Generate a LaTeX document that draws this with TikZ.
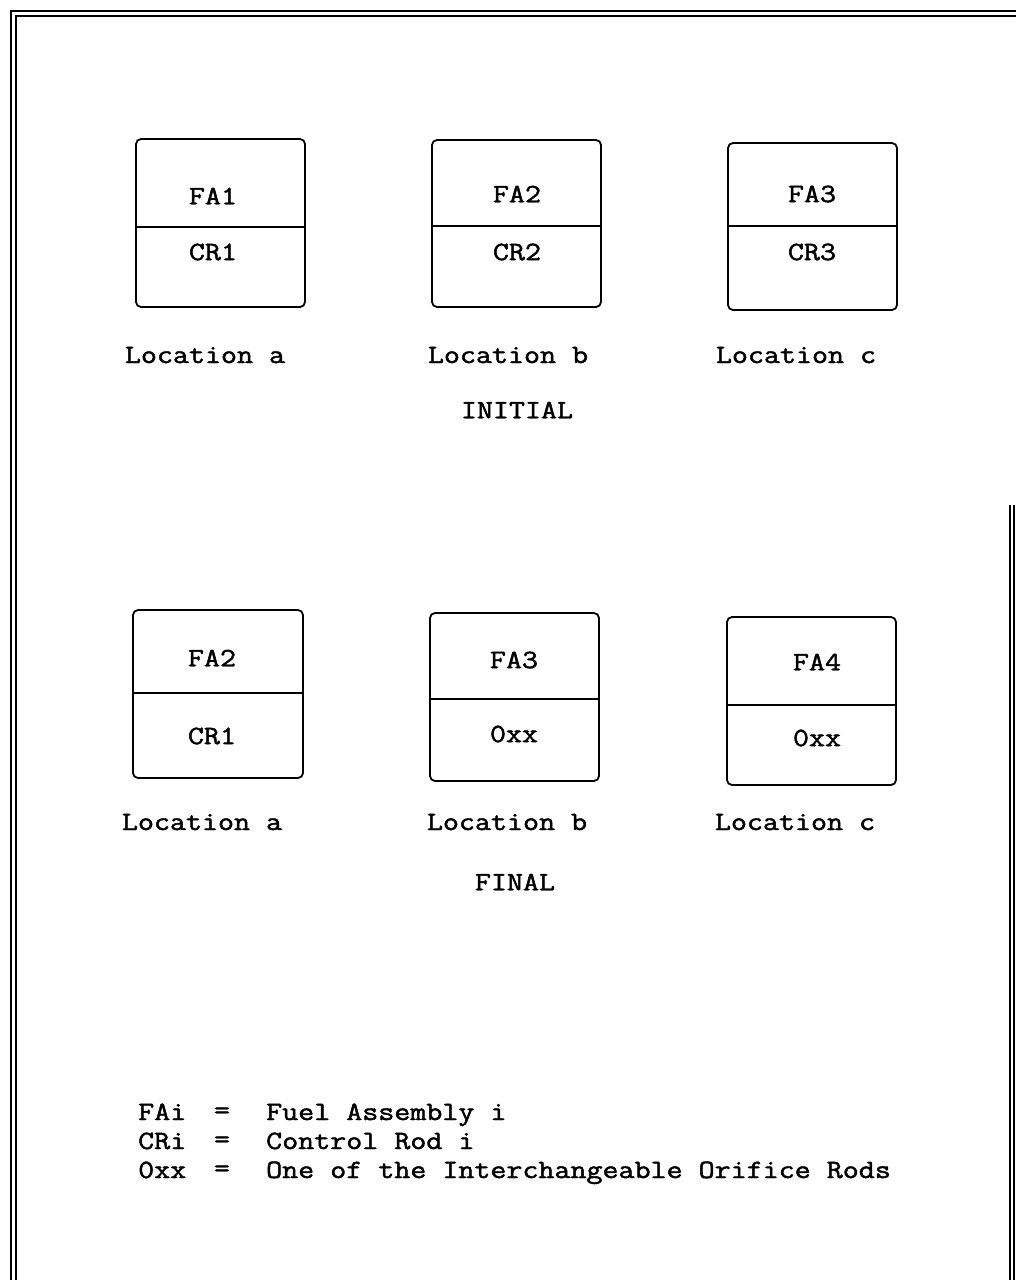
\documentclass[tikz,border=0pt]{standalone}
\usepackage{fontspec}
\usepackage{graphicx}
\setmonofont{Latin Modern Mono}[FakeBold=1.6]
\newcommand\tw[1]{{\ttfamily\fontsize{31.1}{33}\selectfont\scalebox{1}[0.85]{#1}}}
\tikzset{
  cell/.style={rounded corners=5pt, line width=1.8pt},
  divline/.style={line width=1.6pt},
  frameline/.style={line width=1.8pt},
  txt/.style={inner sep=0pt, anchor=center},
  ltxt/.style={inner sep=0pt, anchor=base west}
}
\begin{document}
\begin{tikzpicture}[x=1pt,y=-1pt]
\useasboundingbox (0,0) rectangle (1016,1280);
\fill[white] (0,0) rectangle (1016,1280);
% frame
\draw[frameline] (11,1280) -- (11,11) -- (1016,11);
\draw[frameline] (16,1280) -- (16,16) -- (1016,16);
\draw[frameline] (1010,505) -- (1010,1280);
\draw[frameline] (1014,505) -- (1014,1280);
% initial boxes
\draw[cell] (136,139) rectangle (305,307);
\draw[divline] (136,227) -- (305,227);
\draw[cell] (432,140) rectangle (601,307);
\draw[divline] (432,226) -- (601,226);
\draw[cell] (728,143) rectangle (897,310);
\draw[divline] (728,226) -- (897,226);
\node[txt] (fa1) at (213,196) {\tw{FA1}};
\node[txt] (cr1) at (213,252) {\tw{CR1}};
\node[txt] (fa2) at (517,194) {\tw{FA2}};
\node[txt] (cr2) at (517,252) {\tw{CR2}};
\node[txt] (fa3) at (812,194) {\tw{FA3}};
\node[txt] (cr3) at (812,252) {\tw{CR3}};
\node[txt] (la1) at (205,355) {\tw{Location a}};
\node[txt] (lb1) at (508,355) {\tw{Location b}};
\node[txt] (lc1) at (796,355) {\tw{Location c}};
\node[txt] (init) at (517,410) {\tw{INITIAL}};
% final boxes
\draw[cell] (133,610) rectangle (303,778);
\draw[divline] (133,693) -- (303,693);
\draw[cell] (430,613) rectangle (599,781);
\draw[divline] (430,699) -- (599,699);
\draw[cell] (727,617) rectangle (896,785);
\draw[divline] (727,705) -- (896,705);
\node[txt] (ffa2) at (212,658) {\tw{FA2}};
\node[txt] (fcr1) at (212,736) {\tw{CR1}};
\node[txt] (ffa3) at (514,660) {\tw{FA3}};
\node[txt] (fox1) at (514,734) {\tw{0xx}};
\node[txt] (ffa4) at (817,662) {\tw{FA4}};
\node[txt] (fox2) at (817,738) {\tw{0xx}};
\node[txt] (la2) at (202,822) {\tw{Location a}};
\node[txt] (lb2) at (507,822) {\tw{Location b}};
\node[txt] (lc2) at (795,822) {\tw{Location c}};
\node[txt] (fin) at (515,882) {\tw{FINAL}};
% legend
\node[ltxt] (k1) at (138,1120) {\tw{FAi}};
\node[ltxt] (k2) at (138,1149) {\tw{CRi}};
\node[ltxt] (k3) at (138,1178) {\tw{0xx}};
\node[txt] (e1) at (222,1113) {\tw{=}};
\node[txt] (e2) at (222,1142) {\tw{=}};
\node[txt] (e3) at (222,1171) {\tw{=}};
\node[ltxt] (d1) at (266,1120) {\tw{Fuel Assembly i}};
\node[ltxt] (d2) at (266,1149) {\tw{Control Rod i}};
\node[ltxt] (d3) at (266,1178) {\tw{One of the Interchangeable Orifice Rods}};
\end{tikzpicture}
\end{document}
